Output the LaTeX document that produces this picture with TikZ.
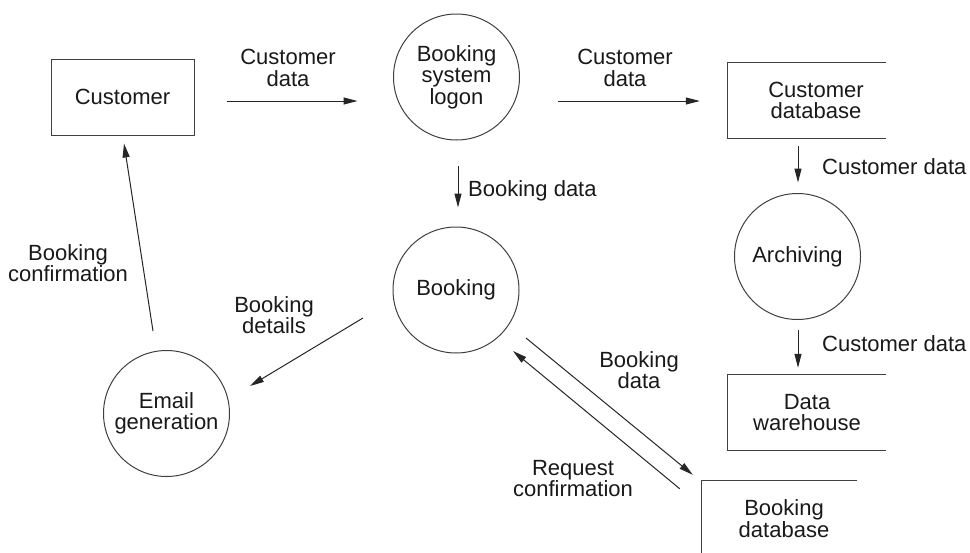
\documentclass[tikz,border=0pt]{standalone}
\usepackage{fontspec}
\setmainfont{Liberation Sans}
\usetikzlibrary{arrows.meta}
\begin{document}
\begin{tikzpicture}[x=1pt,y=-1pt,
  every node/.style={font=\fontsize{22}{21.5}\selectfont, align=center, text=black!90},
  proc/.style={circle,draw=black!75,line width=1pt,minimum size=126pt,inner sep=0pt},
  ext/.style={rectangle,draw=black!75,line width=1pt,minimum width=143pt,minimum height=76pt},
  store/.style={rectangle,minimum width=158pt,minimum height=75pt,inner sep=0pt},
  storeline/.style={draw=black!75,line width=1pt},
  flow/.style={draw=black!85,line width=1pt,-{Triangle[length=14pt,width=7pt]}},
  lbl/.style={inner sep=0pt}]
\useasboundingbox (0,0) rectangle (970,552);

% nodes
\node[ext] (cust) at (122.5,97) {Customer};
\node[proc] (logon) at (456.5,77) {Booking\\system\\logon};
\node[store,minimum width=140pt] (cdb) at (816,100.5) {Customer\\database};
\node[proc] (arch) at (797.5,256.5) {Archiving};
\node[store] (dw) at (807,412.5) {Data\\warehouse};
\node[proc] (book) at (456,290) {Booking};
\node[proc] (email) at (166.5,413.5) {Email\\generation};
\node[store,minimum width=146pt] (bdb) at (784,518.5) {Booking\\database};

% data store outlines (open on the right)
\draw[storeline] (cdb.north east) -- ([xshift=-18]cdb.north west) -- ([xshift=-18]cdb.south west) -- (cdb.south east);
\draw[storeline] (dw.north east) -- (dw.north west) -- (dw.south west) -- (dw.south east);
\draw[storeline] (bdb.north east) -- ([xshift=-9]bdb.north west) -- ([xshift=-9]bdb.south west) -- (bdb.south east);

% flows
\draw[flow] ([shift={(32,4)}]cust.east) -- ([shift={(-35.5,24)}]logon.west);
\draw[flow] ([shift={(37.5,24)}]logon.east) -- ([shift={(-46,0.5)}]cdb.west);
\draw[flow] ([shift={(-18,8)}]cdb.south) -- ([shift={(0.5,-10.5)}]arch.north);
\draw[flow] ([shift={(0.5,9.5)}]arch.south) -- ([shift={(-9,-7)}]dw.north);
\draw[flow] ([shift={(1.5,25)}]logon.south) -- ([shift={(2,-19)}]book.north);
\draw[flow] ([shift={(-93,28)}]book.center) -- ([shift={(83.5,-27.5)}]email.center);
\draw[flow] ([shift={(-13.5,-19)}]email.north) -- ([shift={(1.5,8)}]cust.south);
\draw[flow] ([shift={(70,48)}]book.center) -- ([shift={(-18,-6)}]bdb.north west);
\draw[flow] ([shift={(-31,8)}]bdb.north west) -- ([shift={(57,61)}]book.center);

% labels
\node[lbl] (l1) at (288,68) {Customer\\data};
\node[lbl] (l2) at (625,68) {Customer\\data};
\node[lbl,anchor=west] (l3) at (822,167) {Customer data};
\node[lbl,anchor=west] (l4) at (822,344) {Customer data};
\node[lbl,anchor=west] (l5) at (468,191) {Booking data};
\node[lbl] (l6) at (274,315) {Booking\\details};
\node[lbl] (l7) at (68,263) {Booking\\confirmation};
\node[lbl] (l8) at (639,370) {Booking\\data};
\node[lbl] (l9) at (573,478.5) {Request\\confirmation};
\end{tikzpicture}
\end{document}
